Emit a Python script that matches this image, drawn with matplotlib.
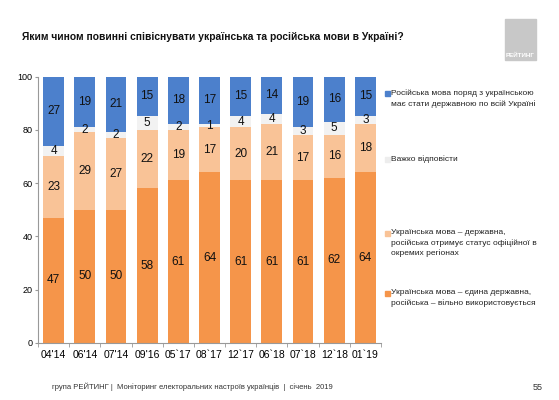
import matplotlib.pyplot as plt
from matplotlib.patches import Rectangle
import numpy as np

plt.rcParams['font.family'] = ['Liberation Sans Narrow', 'Liberation Sans', 'DejaVu Sans']

# data
periods = ["04'14", "06'14", "07'14", "09'16", "05`17", "08`17", "12`17", "06`18", "07`18", "12`18", "01`19"]
uk_only = [47, 50, 50, 58, 61, 64, 61, 61, 61, 62, 64]
uk_ru_official = [23, 29, 27, 22, 19, 17, 20, 21, 17, 16, 18]
hard_to_say = [4, 2, 2, 5, 2, 1, 4, 4, 3, 5, 3]
ru_state = [27, 19, 21, 15, 18, 17, 15, 14, 19, 16, 15]

legend_labels = [
    "Російська мова поряд з українською\nмає стати державною по всій Україні",
    "Важко відповісти",
    "Українська мова – державна,\nросійська отримує статус офіційної в\nокремих регіонах",
    "Українська мова – єдина державна,\nросійська – вільно використовується",
]

c_orange = '#F5954A'
c_light = '#F9C397'
c_grey = '#F2F2F2'
c_blue = '#4C80CC'

fig = plt.figure(figsize=(5.59, 4.0), dpi=100)
ax = fig.add_axes([38/559, 57/400, 343/559, 266.5/400])

x = np.arange(len(periods))
w = 0.67
series = [uk_only, uk_ru_official, hard_to_say, ru_state]
colors = [c_orange, c_light, c_grey, c_blue]
bottom = np.zeros(len(periods))
for i, (vals, col) in enumerate(zip(series, colors)):
    vals = np.array(vals, dtype=float)
    heights = vals if i < 3 else 100 - bottom   # top segment fills up to 100
    ax.bar(x, heights, w, bottom=bottom, color=col, edgecolor='none')
    for xi, b, h, v in zip(x, bottom, heights, vals):
        ax.text(xi, b + h / 2, str(int(v)), ha='center', va='center', fontsize=8.5, color='#111111')
    bottom += heights

ax.set_xlim(-0.5, len(periods) - 0.5)
ax.set_ylim(0, 100)
ax.set_yticks([0, 20, 40, 60, 80, 100])
ax.tick_params(axis='y', labelsize=6.5, length=2, color='#999999', pad=2)
ax.set_xticks(x)
ax.set_xticklabels(periods, fontsize=7.5)
ax.set_xticks(np.arange(-0.5, len(periods)), minor=True)
ax.tick_params(axis='x', which='major', length=0, pad=5)
ax.tick_params(axis='x', which='minor', length=3, color='#999999')
for s in ['top', 'right']:
    ax.spines[s].set_visible(False)
for s in ['left', 'bottom']:
    ax.spines[s].set_color('#999999')
    ax.spines[s].set_linewidth(0.8)

# legend on the right
leg_y = [93, 159, 233, 293]
leg_cols = [c_blue, '#EDEDED', c_light, c_orange]
for yy, col, lab in zip(leg_y, leg_cols, legend_labels):
    fig.patches.append(Rectangle((385/559, 1 - (yy + 2.5) / 400), 4.5/559, 4.5/400,
                                 transform=fig.transFigure, color=col))
    fig.text(391/559, 1 - (yy - 4) / 400, lab, fontsize=6, va='top', ha='left',
             linespacing=1.5, color='#222222')

# title
fig.text(22/559, 1 - 37/400, "Яким чином повинні співіснувати українська та російська мови в Україні?",
         fontsize=7.4, fontweight='bold', va='center', ha='left', color='#111111')

# logo
fig.patches.append(Rectangle((505/559, 1 - 60/400), 31/559, 41/400,
                             transform=fig.transFigure, color='#C8C8C8'))
fig.text(520.5/559, 1 - 55/400, "РЕЙТИНГ", fontsize=4.5, color='white', fontweight='bold',
         ha='center', va='center')

# footer
fig.text(52/559, 1 - 387/400, "група РЕЙТИНГ |  Моніторинг електоральних настроїв українців  |  січень  2019",
         fontsize=5.5, ha='left', va='center', color='#333333')
fig.text(543/559, 1 - 388/400, "55", fontsize=6.5, ha='right', va='center', color='#333333')

fig.savefig('out.png', dpi=100)
